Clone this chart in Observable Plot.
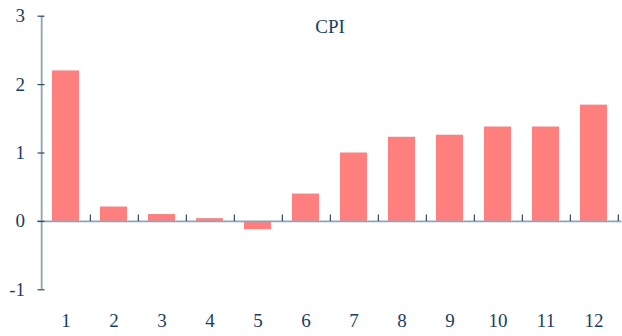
<!DOCTYPE html>
<html><head><meta charset="utf-8">
<script src="https://cdn.jsdelivr.net/npm/d3@7"></script>
<script src="https://cdn.jsdelivr.net/npm/@observablehq/plot@0.6"></script>
<style>body{margin:0;background:#fff}</style>
</head><body><div id="chart"></div>
<script>
const months = ["1","2","3","4","5","6","7","8","9","10","11","12"];
const cpi = [2.2, 0.21, 0.1, 0.04, -0.12, 0.4, 1.0, 1.23, 1.26, 1.38, 1.38, 1.7];
const yTicks = [-1, 0, 1, 2, 3];
const title = "CPI";

const data = months.map((m, i) => ({month: m, value: cpi[i]}));
const W = 622, H = 336, ML = 37.5, MR = 0.5;
const band = (W - ML - MR) / months.length;
const textColor = "#1a3e61";
const lineColor = "#8ea3b8";
const tickColor = "#2c4a66";

const chart = Plot.plot({
  width: W, height: H,
  marginLeft: ML, marginRight: MR, marginTop: 15.7, marginBottom: 46.7,
  style: {fontFamily: "'Liberation Serif', 'Times New Roman', serif", fontSize: "19px", color: textColor, background: "#fff"},
  x: {domain: months, paddingInner: 0.435, paddingOuter: 0.2175},
  y: {domain: [-1, 3]},
  marks: [
    Plot.barY(data, {x: "month", y: "value", fill: "#ff7f7f"}),
    Plot.ruleY([0], {stroke: lineColor, strokeWidth: 1.8}),
    Plot.ruleX([months[0]], {x: d => d, dx: -band / 2, stroke: lineColor, strokeWidth: 1.8}),
    Plot.ruleX(months, {x: d => d, dx: band / 2, y1: 0, y2: 0.095, stroke: tickColor, strokeWidth: 1.2}),
    Plot.tickY(yTicks, {y: d => d, insetRight: W - ML - MR - 7, stroke: tickColor, strokeWidth: 1.2}),
    Plot.axisY({ticks: yTicks, tickSize: 0, tickPadding: 13, label: null, tickFormat: d => String(d), fill: textColor, fontSize: 19}),
    Plot.axisX({tickSize: 0, tickPadding: 24, label: null, fill: textColor, fontSize: 19}),
    Plot.text([title], {frameAnchor: "top", dy: 3, fill: textColor, fontSize: 19})
  ]
});
document.getElementById("chart").appendChild(chart);
</script>
</body></html>
